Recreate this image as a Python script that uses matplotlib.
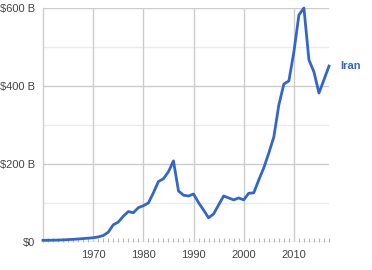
import numpy as np
import matplotlib
matplotlib.use("Agg")
import matplotlib.pyplot as plt
from matplotlib.ticker import FixedLocator

plt.rcParams['font.family'] = ['Liberation Sans', 'DejaVu Sans']

# Iran GDP, billions of current US$
years = list(range(1960, 2018))
gdp = [4.2, 4.4, 4.7, 4.9, 5.4, 6.2, 6.8, 7.7, 8.8, 9.8,
       10.9, 13.0, 16.5, 25.0, 44.0, 51.0, 66.0, 78.0, 75.0, 88.0,
       93.0, 100.0, 126.0, 155.0, 162.0, 180.0, 208.0, 131.0, 120.0, 118.0,
       123.0, 101.0, 82.0, 62.0, 72.0, 95.0, 118.0, 113.0, 108.0, 113.0,
       108.0, 125.0, 126.0, 159.0, 190.0, 228.0, 269.0, 351.0, 405.0, 413.0,
       487.0, 582.0, 600.0, 467.0, 436.0, 382.0, 416.0, 451.0]
y_ticks = [0, 200, 400, 600]
y_labels = ['$0', '$200 B', '$400 B', '$600 B']
x_ticks = [1970, 1980, 1990, 2000, 2010]
series_name = 'Iran'

W, H = 372, 270
fig = plt.figure(figsize=(W / 100, H / 100), dpi=100)
ax = fig.add_axes([43 / W, (H - 242) / H, (329 - 43) / W, (242 - 8) / H])

blue = '#3366cc'
ax.plot(years, gdp, color=blue, lw=2, solid_joinstyle='round', zorder=3, clip_on=False)

ax.set_xlim(1960, 2017)
ax.set_ylim(0, 600)

# gridlines
for v in [100, 300, 500]:
    ax.axhline(v, color='#ebebeb', lw=1, zorder=1)
for v in [200, 400, 600]:
    ax.axhline(v, color='#cccccc', lw=1, zorder=1)
for x in x_ticks:
    ax.axvline(x, color='#cccccc', lw=1, zorder=1)
ax.axhline(0, color='#b8b8b8', lw=1, zorder=2)

for s in ax.spines.values():
    s.set_visible(False)
ax.spines['left'].set_visible(True)
ax.spines['left'].set_color('#cccccc')
ax.spines['left'].set_linewidth(1)

ax.set_yticks(y_ticks)
ax.set_yticklabels(y_labels)
ax.set_xticks(x_ticks)
ax.set_xticklabels([str(x) for x in x_ticks])
ax.xaxis.set_minor_locator(FixedLocator([y for y in years if y not in x_ticks]))
ax.tick_params(axis='y', length=0, pad=6, labelsize=8, labelcolor='#444444')
ax.tick_params(axis='x', which='major', length=0, pad=6, labelsize=8, labelcolor='#444444')
ax.tick_params(axis='x', which='minor', direction='in', length=3, width=0.8, color='#b8b8b8')

ax.text(years[-1] + 2.3, gdp[-1], series_name, color=blue, fontsize=8,
        fontweight='bold', va='center', ha='left')

fig.savefig('out.png', dpi=100)
